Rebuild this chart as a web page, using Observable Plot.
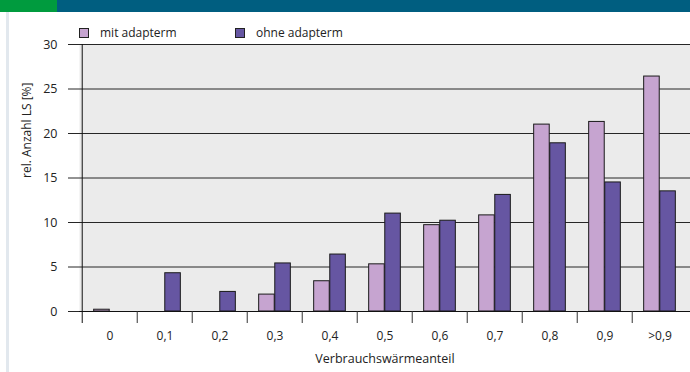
<!DOCTYPE html>
<html>
<head>
<meta charset="utf-8">
<script src="https://cdn.jsdelivr.net/npm/d3@7"></script>
<script src="https://cdn.jsdelivr.net/npm/@observablehq/plot@0.6"></script>
<style>
  html, body { margin: 0; padding: 0; background: #fff; }
  #wrap { position: relative; width: 690px; height: 372px; overflow: hidden; font-family: "Open Sans", sans-serif; color: #222; }
  .bar-green { position: absolute; left: 0; top: 0; width: 57px; height: 12px; background: #009b3e; }
  .bar-teal { position: absolute; left: 57px; top: 0; width: 633px; height: 12px; background: #005e80; }
  .strip { position: absolute; left: 6px; top: 12px; width: 3px; height: 360px; background: #e2e8ee; }
  .legend { position: absolute; top: 26px; left: 79px; font-size: 12px; line-height: 14px; }
  .legend span.item { position: absolute; white-space: nowrap; }
  .legend i { display: inline-block; width: 8px; height: 8px; border: 1px solid #222; vertical-align: -1px; margin-right: 11px; }
  #chart { position: absolute; left: 0; top: 0; }
</style>
</head>
<body>
<div id="wrap">
  <div id="chart"></div>
  <div class="bar-green"></div>
  <div class="bar-teal"></div>
  <div class="strip"></div>
  <div class="legend" id="legend"></div>
</div>
<script>
// Share of consumption heat (categories) and relative number of load cases [%]
const categories = ["0", "0,1", "0,2", "0,3", "0,4", "0,5", "0,6", "0,7", "0,8", "0,9", ">0,9"];
const mitAdapterm = [0.2, 0, 0, 1.9, 3.4, 5.3, 9.7, 10.8, 21.0, 21.3, 26.4];
const ohneAdapterm = [0, 4.3, 2.2, 5.4, 6.4, 11.0, 10.2, 13.1, 18.9, 14.5, 13.5];
const seriesNames = ["mit adapterm", "ohne adapterm"];
const seriesColors = ["#c6a4d0", "#6656a2"];
const yTicks = [0, 5, 10, 15, 20, 25, 30];

const W = 690, H = 372;
const mL = 79, mR = 0, mT = 44, mB = 61;
const step = (W - mL - mR) / categories.length;
const barW = step * 0.29;
const gap = (step - 2 * barW) / 2;

const rowsMit = categories.map((c, i) => ({cat: c, value: mitAdapterm[i]})).filter(d => d.value > 0);
const rowsOhne = categories.map((c, i) => ({cat: c, value: ohneAdapterm[i]})).filter(d => d.value > 0);

const chart = Plot.plot({
  width: W,
  height: H,
  marginTop: mT,
  marginBottom: mB,
  marginLeft: mL,
  marginRight: mR,
  style: {fontFamily: "'Open Sans', sans-serif", fontSize: "12px", color: "#222", background: "transparent"},
  x: {domain: categories, padding: 0},
  y: {domain: [0, 30]},
  marks: [
    Plot.frame({fill: "#ebebeb", stroke: null}),
    Plot.ruleY(yTicks, {stroke: "#262626", strokeWidth: 1}),
    Plot.axisY({ticks: yTicks, tickSize: 11, tickPadding: 11, fontSize: 12.5, stroke: "#262626", label: null}),
    Plot.barY(rowsMit, {x: "cat", y: "value", fill: seriesColors[0], stroke: "#1a1a1a", strokeWidth: 1, insetLeft: gap, insetRight: gap + barW}),
    Plot.barY(rowsOhne, {x: "cat", y: "value", fill: seriesColors[1], stroke: "#1a1a1a", strokeWidth: 1, insetLeft: gap + barW, insetRight: gap}),
    Plot.ruleY([0], {stroke: "#111"}),
    Plot.ruleX([categories[0]], {dx: -step / 2, insetBottom: -12, stroke: "#111"}),
    Plot.ruleX(categories.slice(1), {dx: -step / 2, y1: 0, y2: 0, insetBottom: -12, stroke: "#333"}),
    Plot.axisX({tickSize: 0, tickPadding: 20, fontSize: 12, label: null}),
    Plot.text(["Verbrauchswärmeanteil"], {frameAnchor: "bottom", dy: 51, fontSize: 12.5, fill: "#222"}),
    Plot.text(["rel. Anzahl LS [%]"], {frameAnchor: "left", dx: -52, rotate: -90, fontSize: 12, fill: "#222"})
  ]
});
document.getElementById("chart").appendChild(chart);

// legend above the plot area
const legend = document.getElementById("legend");
const legendX = [0, 156];
seriesNames.forEach((name, i) => {
  const item = document.createElement("span");
  item.className = "item";
  item.style.left = legendX[i] + "px";
  const sw = document.createElement("i");
  sw.style.background = seriesColors[i];
  item.appendChild(sw);
  item.appendChild(document.createTextNode(name));
  legend.appendChild(item);
});
</script>
</body>
</html>
